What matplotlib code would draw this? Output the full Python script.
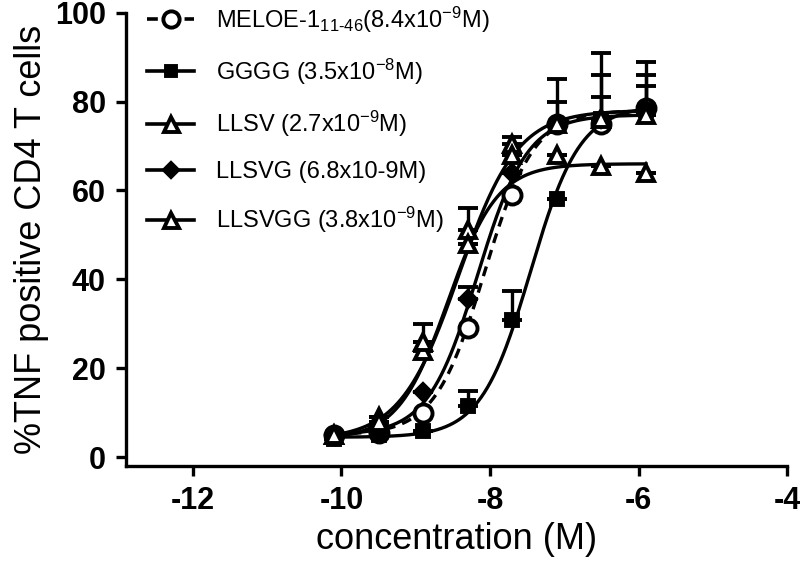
import numpy as np
import matplotlib
matplotlib.use('Agg')
import matplotlib.pyplot as plt
from matplotlib.lines import Line2D

plt.rcParams['font.family'] = ['Liberation Sans', 'DejaVu Sans']
plt.rcParams['mathtext.default'] = 'regular'
plt.rcParams['axes.unicode_minus'] = False

# log10 concentration (4-fold dilutions)
conc = [-10.1, -9.5, -8.9, -8.3, -7.7, -7.1, -6.5, -5.9]

# mean % TNF positive cells
meloe = [5, 5.5, 10, 29, 59, 75, 75, 78.5]
gggg = [4, 5, 6, 11.5, 30.8, 58, 76, 78]
llsv = [5, 9, 24, 51, 70.5, 68, 65.5, 64]
llsvg = [5, 6, 14.6, 35.7, 64, 75, 76, 78]
llsvgg = [5, 8, 26, 48, 68, 75, 76, 77]

# upper error bars (SEM)
meloe_err = [0, 0, 0, 0, 0, 10, 16, 10.5]
gggg_err = [0, 0, 0, 3.5, 6.5, 0, 10, 8]
llsv_err = [0, 0, 6, 5, 1.5, 0, 0, 0]
llsvg_err = [0, 0, 0, 2.5, 0, 5, 5, 5.5]
llsvgg_err = [0, 0, 0, 0, 0, 0, 0, 0]

# sigmoid fit parameters: bottom, top, logEC50, hill slope
fit_bottom = [5, 4.5, 4, 5, 4]
fit_top = [78, 79, 66, 77, 78]
fit_logec50 = [np.log10(8.4e-9), np.log10(3.5e-8), np.log10(2.7e-9),
               np.log10(6.8e-9), np.log10(3.8e-9)]
fit_hill = [1.3, 1.3, 1.3, 1.3, 1.1]

labels = ['MELOE-1$_{11\u201046}$(8.4x10$^{-9}$M)',
          'GGGG (3.5x10$^{-8}$M)',
          'LLSV (2.7x10$^{-9}$M)',
          'LLSVG (6.8x10-9M)',
          'LLSVGG (3.8x10$^{-9}$M)']

series = [meloe, gggg, llsv, llsvg, llsvgg]
errs = [meloe_err, gggg_err, llsv_err, llsvg_err, llsvgg_err]
markers = ['o', 's', '^', 'D', '^']
faces = ['white', 'black', 'white', 'black', 'white']
sizes = [13, 8.5, 12, 8, 12]
styles = [(0, (3, 2.2)), '-', '-', '-', '-']

fig = plt.figure(figsize=(8, 5.63), dpi=100)
ax = fig.add_axes([0.1575, 0.172, 0.8265, 0.8056])

xs = np.linspace(conc[0], conc[-1], 300)
handles = []
for i in range(5):
    yfit = fit_bottom[i] + (fit_top[i] - fit_bottom[i]) / (1 + 10 ** ((fit_logec50[i] - xs) * fit_hill[i]))
    ax.plot(xs, yfit, color='black', lw=2.4, ls=styles[i], zorder=2)
    ax.errorbar(conc, series[i], yerr=[np.zeros(8), errs[i]], fmt='none',
                ecolor='black', elinewidth=2.4, capsize=7.5, capthick=2.8, zorder=3)
    ax.plot(conc, series[i], ls='none', marker=markers[i], ms=sizes[i],
            mfc=faces[i], mec='black', mew=2.8, zorder=4)
    handles.append(Line2D([], [], color='black', lw=2.6, ls=styles[i], marker=markers[i],
                          ms=sizes[i] * 0.9, mfc=faces[i], mec='black', mew=2.8))

ax.set_xlim(-12.9, -4)
ax.set_ylim(-2, 100)
ax.set_xticks([-12, -10, -8, -6, -4])
ax.set_yticks([0, 20, 40, 60, 80, 100])
for s in ['top', 'right']:
    ax.spines[s].set_visible(False)
for s in ['left', 'bottom']:
    ax.spines[s].set_linewidth(2.4)
ax.tick_params(width=2.4, length=7.5, labelsize=22, pad=7)
for t in ax.get_xticklabels() + ax.get_yticklabels():
    t.set_fontweight('bold')

ax.set_xlabel('concentration (M)', fontsize=26, labelpad=4)
ax.set_ylabel('%TNF positive CD4 T cells', fontsize=26, labelpad=4)

ax.legend(handles, labels, loc='upper left', bbox_to_anchor=(0.0, 1.065), frameon=False,
          fontsize=17, handlelength=2.0, handletextpad=0.9, labelspacing=0.93)

fig.savefig('out.png', dpi=100)
